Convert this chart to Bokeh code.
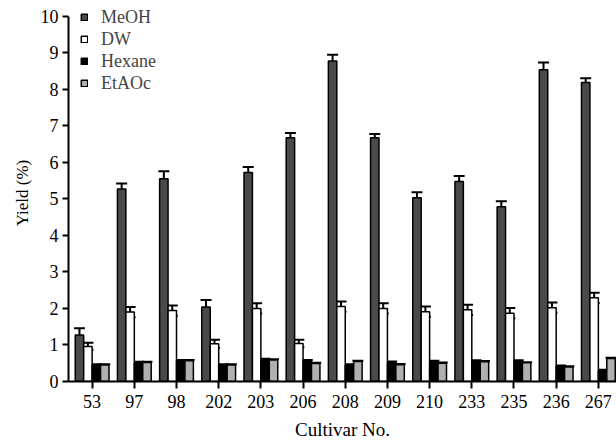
from bokeh.plotting import figure
from bokeh.models import (ColumnDataSource, Legend, LegendItem, Whisker, TeeHead,
                          FixedTicker, Range1d)
from bokeh.embed import file_html
from bokeh.resources import INLINE

categories = ["53", "97", "98", "202", "203", "206", "208", "209", "210", "233", "235", "236", "267"]
meoh = [1.27, 5.27, 5.55, 2.04, 5.72, 6.67, 8.77, 6.67, 5.03, 5.47, 4.78, 8.53, 8.18]
meoh_err = [0.19, 0.15, 0.20, 0.19, 0.15, 0.13, 0.17, 0.10, 0.15, 0.15, 0.15, 0.20, 0.12]
dw = [0.96, 1.90, 1.94, 1.03, 2.00, 1.04, 2.05, 2.00, 1.91, 1.96, 1.87, 2.02, 2.29]
dw_err = [0.10, 0.14, 0.14, 0.11, 0.14, 0.10, 0.14, 0.14, 0.14, 0.14, 0.14, 0.14, 0.14]
hexane = [0.45, 0.52, 0.57, 0.45, 0.60, 0.57, 0.45, 0.53, 0.55, 0.56, 0.56, 0.42, 0.30]
hexane_err = [0.02] * 13
etaoc = [0.45, 0.52, 0.57, 0.45, 0.59, 0.49, 0.55, 0.46, 0.50, 0.54, 0.51, 0.40, 0.63]
etaoc_err = [0.02] * 13
y_ticks = list(range(0, 11))

series = [
    ("MeOH", meoh, meoh_err, "#4a4a4a", -0.3, False),
    ("DW", dw, dw_err, "#ffffff", -0.1, True),
    ("Hexane", hexane, hexane_err, "#000000", 0.1, False),
    ("EtAOc", etaoc, etaoc_err, "#b0b0b0", 0.3, False),
]

FONT = "Liberation Serif"

p = figure(width=616, height=445, output_backend="svg", toolbar_location=None,
           x_range=Range1d(-0.56, 12.43), y_range=Range1d(0, 10.315),
           min_border_left=68, min_border_right=0, min_border_top=4, min_border_bottom=64)
p.outline_line_color = None
p.xgrid.visible = False
p.ygrid.visible = False
p.background_fill_color = "white"

xs = list(range(len(categories)))
items = []
for name, vals, errs, color, off, both in series:
    src = ColumnDataSource(dict(
        x=[i + off for i in xs], top=vals,
        upper=[v + e for v, e in zip(vals, errs)],
        lower=[v - e if both else v for v, e in zip(vals, errs)],
    ))
    r = p.vbar(x="x", top="top", width=0.2, bottom=0, source=src,
               fill_color=color, line_color="black", line_width=1.5)
    w = Whisker(base="x", upper="upper", lower="lower", source=src, dimension="height",
                line_color="black", line_width=2,
                upper_head=TeeHead(size=11, line_width=2, line_color="black"),
                lower_head=TeeHead(size=11, line_width=2, line_color="black") if both else None)
    p.add_layout(w)
    items.append(LegendItem(label=name, renderers=[r]))

legend = Legend(items=items, location=(12, 287), border_line_color=None,
                background_fill_alpha=0, label_text_font=FONT, label_text_font_size="18px",
                glyph_width=8, glyph_height=8, label_height=22, spacing=0,
                padding=0, margin=0, label_standoff=13)
p.add_layout(legend)

p.xaxis.ticker = FixedTicker(ticks=xs)
p.xaxis.major_label_overrides = {i: c for i, c in enumerate(categories)}
p.xaxis.axis_label = "Cultivar No."
p.yaxis.axis_label = "Yield (%)"
p.yaxis.ticker = FixedTicker(ticks=y_ticks)
p.yaxis.bounds = (y_ticks[0], y_ticks[-1])

for ax in (p.xaxis[0], p.yaxis[0]):
    ax.axis_line_width = 2
    ax.axis_line_color = "black"
    ax.major_tick_line_width = 2
    ax.major_tick_line_color = "black"
    ax.major_tick_in = 0
    ax.minor_tick_line_color = None
    ax.major_label_text_font = FONT
    ax.axis_label_text_font = FONT
    ax.axis_label_text_font_style = "normal"
    ax.major_label_text_color = "black"
    ax.axis_label_text_color = "black"

p.xaxis.major_tick_out = 7
p.yaxis.major_tick_out = 6
p.xaxis.major_label_text_font_size = "18px"
p.yaxis.major_label_text_font_size = "18px"
p.xaxis.axis_label_text_font_size = "19px"
p.yaxis.axis_label_text_font_size = "17px"
p.xaxis.major_label_standoff = 6
p.yaxis.major_label_standoff = 4
p.xaxis.axis_label_standoff = 8
p.yaxis.axis_label_standoff = 6

open("out.html", "w").write(file_html(p, INLINE))
